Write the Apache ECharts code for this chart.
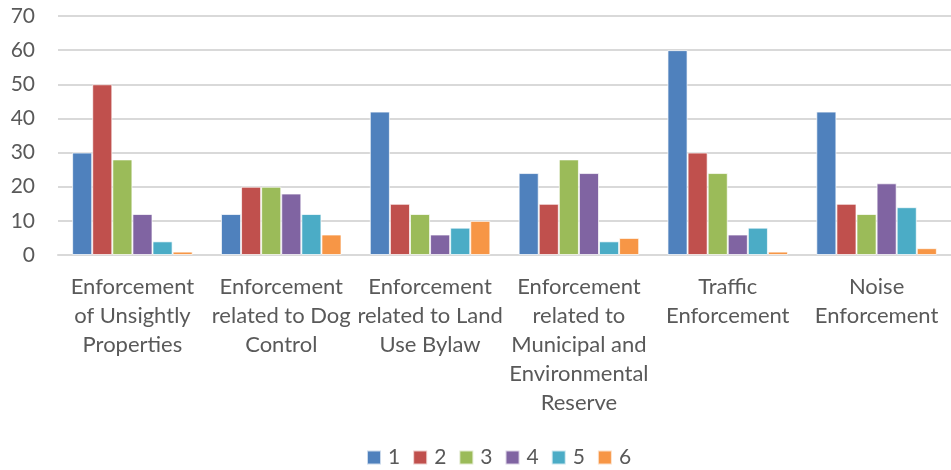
<!DOCTYPE html>
<html>
<head>
<meta charset="utf-8">
<script src="https://cdn.jsdelivr.net/npm/echarts@6/dist/echarts.min.js"></script>
<style>
  html, body { margin: 0; padding: 0; background: #fff; }
  #chart { width: 951px; height: 470px; }
</style>
</head>
<body>
<div id="chart"></div>
<script>
// Enforcement categories (line breaks set the label wrapping)
const categories = [
  'Enforcement\nof Unsightly\nProperties',
  'Enforcement\nrelated to Dog\nControl',
  'Enforcement\nrelated to Land\nUse Bylaw',
  'Enforcement\nrelated to\nMunicipal and\nEnvironmental\nReserve',
  'Traffic\nEnforcement',
  'Noise\nEnforcement'
];

// Response counts per rating
const seriesNames = ['1', '2', '3', '4', '5', '6'];
const rating1 = [30, 12, 42, 24, 60, 42];
const rating2 = [50, 20, 15, 15, 30, 15];
const rating3 = [28, 20, 12, 28, 24, 12];
const rating4 = [12, 18, 6, 24, 6, 21];
const rating5 = [4, 12, 8, 4, 8, 14];
const rating6 = [1, 6, 10, 5, 1, 2];
const seriesValues = [rating1, rating2, rating3, rating4, rating5, rating6];

const yTicks = { min: 0, max: 70, interval: 10 };

const palette = ['#4F81BD', '#C0504D', '#9BBB59', '#8064A2', '#4BACC6', '#F79646'];
const fontFamily = 'Lato, "Liberation Sans", sans-serif';
const textColor = '#595959';

const chart = echarts.init(document.getElementById('chart'), null, { renderer: 'canvas' });

chart.setOption({
  animation: false,
  color: palette,
  grid: { left: 58, right: 0, top: 16, bottom: 215, containLabel: false },
  legend: {
    data: seriesNames,
    bottom: 2,
    left: 366,
    padding: 0,
    itemWidth: 14,
    itemHeight: 14,
    itemGap: 12,
    icon: 'rect',
    textStyle: { color: textColor, fontSize: 21, fontFamily: fontFamily, padding: [0, 0, 0, 2] }
  },
  xAxis: {
    type: 'category',
    data: categories,
    axisLine: { show: true, lineStyle: { color: '#d9d9d9', width: 2 } },
    axisTick: { show: false },
    axisLabel: {
      interval: 0,
      margin: 17,
      color: textColor,
      fontSize: 22,
      lineHeight: 29,
      fontFamily: fontFamily
    }
  },
  yAxis: {
    type: 'value',
    min: yTicks.min,
    max: yTicks.max,
    interval: yTicks.interval,
    axisLine: { show: false },
    axisTick: { show: false },
    splitLine: { lineStyle: { color: '#d9d9d9', width: 2 } },
    axisLabel: { color: textColor, fontSize: 21, margin: 23, fontFamily: fontFamily }
  },
  series: seriesValues.map((vals, i) => ({
    name: seriesNames[i],
    type: 'bar',
    data: vals,
    barGap: '0%',
    barCategoryGap: '19%',
    itemStyle: { borderColor: 'rgba(255,255,255,0.7)', borderWidth: 1 }
  }))
});
</script>
</body>
</html>
